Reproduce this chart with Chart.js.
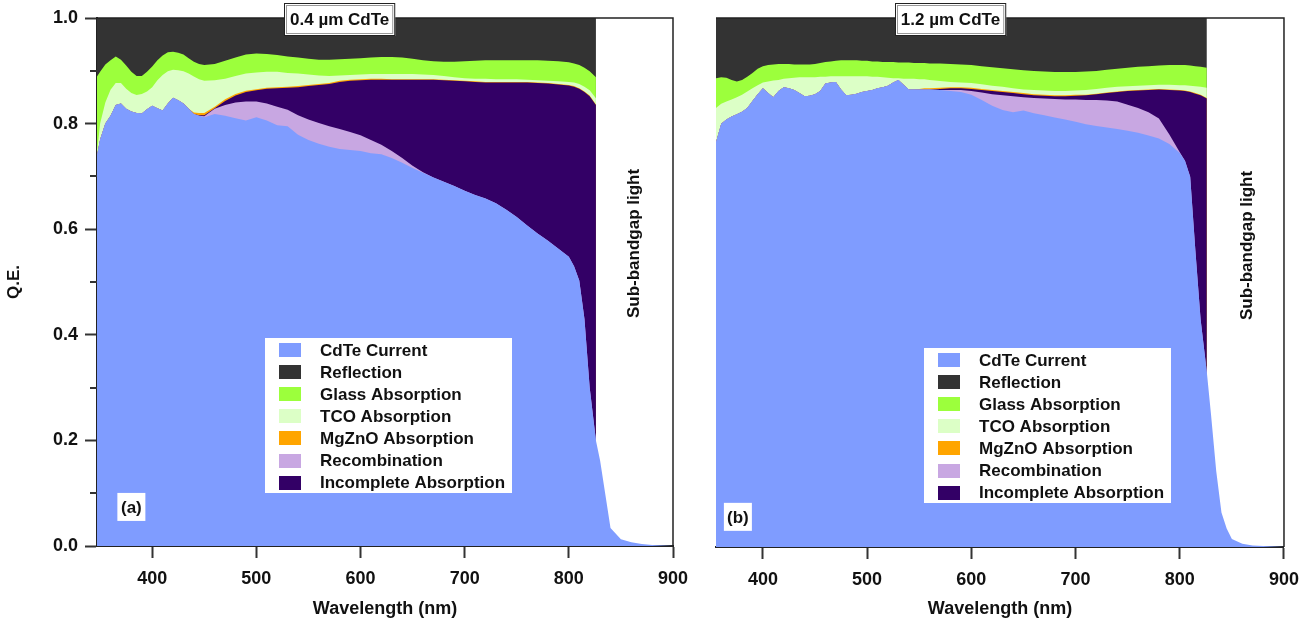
<!DOCTYPE html>
<html lang="en">
  <head>
    <meta charset="UTF-8" />
    <title>CdTe quantum efficiency loss analysis</title>
    <script src="https://cdn.jsdelivr.net/npm/chart.js@4.4.1/dist/chart.umd.min.js"></script>
    <style>
      body { margin: 0; background: #fff; width: 1309px; height: 624px; overflow: hidden; }
      canvas { position: absolute; top: 0; }
      #chartA { left: 0; }
      #chartB { left: 700px; }
    </style>
  </head>
  <body>
    <canvas id="chartA" width="700" height="624"></canvas>
    <canvas id="chartB" width="609" height="624"></canvas>

    <script>
      // Each loss array holds the upper edge of its band (cumulative Q.E.).
      // Bands are stacked: CdTe current < recombination < incomplete absorption
      // < MgZnO < TCO < glass < reflection (up to 1.0).

      // ---- (a) 0.4 um CdTe ----
      const wlA = [
        347, 350, 355, 360, 365, 370, 375, 380, 385, 390, 395, 400, 405, 410, 415, 420, 425, 430, 435, 440, 445, 450,
        460, 470, 480, 490, 500, 510, 520, 530, 540, 550, 560, 570, 580, 590, 600, 610, 620, 630, 640, 650, 660,
        670, 680, 690, 700, 710, 720, 730, 740, 750, 760, 770, 780, 790, 800,
        805, 810, 815, 820, 826
      ];
      const wlTailA = [830, 835, 840, 850, 860, 870, 880, 890, 900];
      const cdteA = [
        0.74, 0.77, 0.80, 0.815, 0.835, 0.838, 0.828, 0.823, 0.82, 0.819, 0.827, 0.834, 0.829, 0.825, 0.838, 0.849, 0.844, 0.838, 0.828, 0.818, 0.815, 0.812,
        0.818, 0.815, 0.81, 0.806, 0.812, 0.806, 0.797, 0.795, 0.779, 0.769, 0.762, 0.756, 0.752, 0.75, 0.748, 0.744, 0.742, 0.735, 0.726, 0.716, 0.707,
        0.698, 0.69, 0.682, 0.673, 0.665, 0.658, 0.649, 0.637, 0.623, 0.607, 0.592, 0.578, 0.563, 0.548,
        0.53, 0.503, 0.43, 0.3, 0.2,
        0.162, 0.098, 0.034, 0.013, 0.007, 0.004, 0.002, 0.001, 0
      ];
      const recombA = [
        0.74, 0.77, 0.80, 0.815, 0.835, 0.838, 0.828, 0.823, 0.82, 0.819, 0.827, 0.834, 0.829, 0.825, 0.838, 0.849, 0.844, 0.838, 0.828, 0.818, 0.815, 0.814,
        0.828, 0.835, 0.84, 0.842, 0.842, 0.838, 0.832, 0.826, 0.816, 0.808, 0.801, 0.795, 0.79, 0.784, 0.778, 0.769, 0.76, 0.748, 0.735, 0.72, 0.708,
        0.698, 0.69, 0.682, 0.673, 0.665, 0.658, 0.649, 0.637, 0.623, 0.607, 0.592, 0.578, 0.563, 0.548,
        0.53, 0.503, 0.43, 0.3, 0.2
      ];
      const incompleteA = [
        0.74, 0.77, 0.80, 0.815, 0.835, 0.838, 0.828, 0.823, 0.82, 0.819, 0.827, 0.834, 0.829, 0.825, 0.838, 0.849, 0.844, 0.838, 0.828, 0.818, 0.816, 0.816,
        0.829, 0.843, 0.853, 0.86, 0.863, 0.866, 0.867, 0.868, 0.869, 0.871, 0.873, 0.875, 0.879, 0.881, 0.882, 0.883, 0.883, 0.883, 0.883, 0.883, 0.883,
        0.883, 0.882, 0.881, 0.88, 0.879, 0.878, 0.878, 0.878, 0.878, 0.878, 0.877, 0.876, 0.874, 0.872,
        0.87, 0.866, 0.86, 0.852, 0.835
      ];
      const mgznoA = [
        0.74, 0.77, 0.80, 0.815, 0.835, 0.838, 0.828, 0.823, 0.82, 0.819, 0.827, 0.834, 0.829, 0.825, 0.838, 0.849, 0.844, 0.838, 0.828, 0.821, 0.82, 0.82,
        0.832, 0.846, 0.856, 0.862, 0.865, 0.868, 0.869, 0.87, 0.871, 0.873, 0.875, 0.877, 0.881, 0.883, 0.884, 0.885, 0.885, 0.884, 0.884, 0.884, 0.884,
        0.884, 0.883, 0.882, 0.881, 0.88, 0.879, 0.879, 0.879, 0.879, 0.879, 0.878, 0.877, 0.875, 0.873,
        0.871, 0.867, 0.861, 0.853, 0.836
      ];
      const tcoA = [
        0.745, 0.80, 0.84, 0.864, 0.877, 0.877, 0.866, 0.858, 0.854, 0.856, 0.861, 0.869, 0.882, 0.892, 0.899, 0.902, 0.901, 0.899, 0.895, 0.889, 0.884, 0.881,
        0.882, 0.885, 0.89, 0.895, 0.897, 0.898, 0.898, 0.896, 0.895, 0.893, 0.891, 0.89, 0.891, 0.892, 0.893, 0.894, 0.894, 0.894, 0.894, 0.894, 0.893,
        0.892, 0.89, 0.888, 0.886, 0.885, 0.885, 0.884, 0.884, 0.884, 0.883, 0.882, 0.881, 0.88, 0.879,
        0.878, 0.875, 0.87, 0.863, 0.848
      ];
      const glassA = [
        0.889, 0.898, 0.912, 0.92, 0.927, 0.921, 0.91, 0.898, 0.89, 0.89, 0.898, 0.908, 0.92, 0.929, 0.935, 0.936, 0.934, 0.931, 0.924, 0.917, 0.913, 0.911,
        0.913, 0.919, 0.925, 0.931, 0.933, 0.932, 0.93, 0.927, 0.925, 0.923, 0.921, 0.921, 0.922, 0.923, 0.924, 0.925, 0.926, 0.926, 0.925, 0.923, 0.92,
        0.918, 0.917, 0.917, 0.918, 0.919, 0.92, 0.92, 0.92, 0.92, 0.92, 0.92, 0.919, 0.918, 0.916,
        0.914, 0.911, 0.906, 0.899, 0.888
      ];
      const reflWlA = [347, 826];
      const reflA = [1, 1];

      // ---- (b) 1.2 um CdTe ----
      const wlB = [
        355, 360, 365, 370, 375, 380, 385, 390, 395, 400, 405, 410, 415, 420, 425, 430, 435, 440, 445, 450,
        455, 460, 465, 470, 475, 480, 485, 490, 495, 500, 505, 510, 515, 520, 525, 530, 535, 540, 545, 550, 555, 560,
        570, 580, 590, 600, 610, 620, 630, 640, 650, 660, 670, 680, 690, 700, 710, 720, 730, 740, 750, 760, 770, 780, 790, 800,
        805, 810, 815, 820, 826
      ];
      const wlTailB = [830, 835, 840, 845, 850, 860, 870, 880, 890, 900];
      const cdteB = [
        0.765, 0.80, 0.808, 0.814, 0.818, 0.823, 0.83, 0.843, 0.856, 0.867, 0.858, 0.85, 0.862, 0.869, 0.867, 0.864, 0.858, 0.852, 0.853, 0.856,
        0.862, 0.876, 0.878, 0.879, 0.865, 0.854, 0.855, 0.857, 0.86, 0.862, 0.864, 0.867, 0.869, 0.872, 0.878, 0.883, 0.874, 0.865, 0.865, 0.865, 0.865, 0.865,
        0.864, 0.862, 0.86, 0.855, 0.845, 0.834, 0.826, 0.822, 0.825, 0.82, 0.816, 0.812, 0.808, 0.804, 0.799, 0.796, 0.793, 0.79, 0.787, 0.783, 0.778, 0.772, 0.762, 0.745,
        0.73, 0.70, 0.56, 0.43, 0.33,
        0.25, 0.143, 0.065, 0.035, 0.015, 0.006, 0.003, 0.002, 0.001, 0
      ];
      const recombB = [
        0.765, 0.80, 0.808, 0.814, 0.818, 0.823, 0.83, 0.843, 0.856, 0.867, 0.858, 0.85, 0.862, 0.869, 0.867, 0.864, 0.858, 0.852, 0.853, 0.856,
        0.862, 0.876, 0.878, 0.879, 0.865, 0.854, 0.855, 0.857, 0.86, 0.862, 0.864, 0.867, 0.869, 0.872, 0.878, 0.883, 0.874, 0.865, 0.865, 0.865, 0.865, 0.865,
        0.864, 0.864, 0.864, 0.862, 0.859, 0.856, 0.854, 0.852, 0.85, 0.849, 0.848, 0.847, 0.846, 0.846, 0.845, 0.845, 0.844, 0.842, 0.836, 0.83, 0.822, 0.81, 0.78, 0.746,
        0.73, 0.70, 0.56, 0.43, 0.33
      ];
      const incompleteB = [
        0.765, 0.80, 0.808, 0.814, 0.818, 0.823, 0.83, 0.843, 0.856, 0.867, 0.858, 0.85, 0.862, 0.869, 0.867, 0.864, 0.858, 0.852, 0.853, 0.856,
        0.862, 0.876, 0.878, 0.879, 0.865, 0.854, 0.855, 0.857, 0.86, 0.862, 0.864, 0.867, 0.869, 0.872, 0.878, 0.883, 0.874, 0.865, 0.865, 0.865, 0.865, 0.865,
        0.866, 0.867, 0.867, 0.866, 0.864, 0.862, 0.86, 0.858, 0.856, 0.854, 0.853, 0.852, 0.852, 0.853, 0.854, 0.856, 0.858, 0.86, 0.862, 0.863, 0.864, 0.865, 0.864, 0.863,
        0.862, 0.86, 0.857, 0.854, 0.848
      ];
      const mgznoB = [
        0.765, 0.80, 0.808, 0.814, 0.818, 0.823, 0.83, 0.843, 0.856, 0.867, 0.858, 0.85, 0.862, 0.869, 0.867, 0.864, 0.858, 0.852, 0.853, 0.856,
        0.862, 0.876, 0.878, 0.879, 0.865, 0.854, 0.855, 0.857, 0.86, 0.862, 0.864, 0.867, 0.869, 0.872, 0.878, 0.883, 0.874, 0.865, 0.865, 0.866, 0.867, 0.867,
        0.868, 0.869, 0.869, 0.868, 0.866, 0.864, 0.862, 0.86, 0.858, 0.856, 0.855, 0.854, 0.854, 0.855, 0.855, 0.857, 0.859, 0.861, 0.863, 0.864, 0.865, 0.866, 0.865, 0.864,
        0.863, 0.861, 0.858, 0.855, 0.849
      ];
      const tcoB = [
        0.83, 0.838, 0.842, 0.846, 0.85, 0.855, 0.861, 0.867, 0.873, 0.878, 0.88, 0.882, 0.883, 0.885, 0.886, 0.887, 0.888, 0.888, 0.888, 0.888,
        0.889, 0.889, 0.89, 0.89, 0.89, 0.89, 0.89, 0.89, 0.89, 0.89, 0.889, 0.889, 0.888, 0.887, 0.886, 0.886, 0.885, 0.885, 0.885, 0.884, 0.884, 0.883,
        0.881, 0.879, 0.878, 0.877, 0.875, 0.872, 0.87, 0.867, 0.865, 0.864, 0.863, 0.862, 0.862, 0.863, 0.864, 0.866, 0.868, 0.87, 0.871, 0.872, 0.873, 0.874, 0.874, 0.873,
        0.873, 0.872, 0.871, 0.87, 0.868
      ];
      const glassB = [
        0.886, 0.888, 0.887, 0.883, 0.88, 0.883, 0.889, 0.896, 0.904, 0.909, 0.911, 0.912, 0.913, 0.913, 0.913, 0.912, 0.912, 0.912, 0.912, 0.913,
        0.915, 0.917, 0.918, 0.919, 0.92, 0.92, 0.92, 0.92, 0.919, 0.919, 0.918, 0.918, 0.917, 0.917, 0.917, 0.916, 0.916, 0.916, 0.915, 0.915, 0.915, 0.914,
        0.914, 0.913, 0.912, 0.911, 0.909, 0.907, 0.905, 0.903, 0.901, 0.9, 0.899, 0.898, 0.898, 0.898, 0.899, 0.9, 0.902, 0.904, 0.906, 0.908, 0.909, 0.91, 0.911, 0.911,
        0.911, 0.91, 0.909, 0.908, 0.906
      ];
      const reflWlB = [355, 826];
      const reflB = [1, 1];

      const xTicks = [400, 500, 600, 700, 800, 900];

      const colors = {
        cdte: "#7f9cff",
        refl: "#333333",
        glass: "#9cff3c",
        tco: "#dcffc6",
        mgzno: "#ffa500",
        recomb: "#c8a7e2",
        incomplete: "#330066",
      };

      const FONT = "'Liberation Sans', Arial, Helvetica, sans-serif";
      Chart.defaults.font.family = FONT;
      Chart.defaults.font.weight = "bold";
      Chart.defaults.color = "#111";

      function points(xs, ys) {
        return xs.map((x, i) => ({ x: x, y: ys[i] }));
      }

      // Every band fills down to zero; lower bands are drawn last and cover the upper ones
      function band(label, color, xs, ys) {
        return {
          label: label,
          data: points(xs, ys),
          backgroundColor: color,
          borderColor: "rgba(0,0,0,0)",
          borderWidth: 0,
          pointRadius: 0,
          tension: 0,
          fill: "origin",
        };
      }

      // legend rows: CdTe, Reflection, Glass, TCO, MgZnO, Recombination, Incomplete
      const legendOrder = [0, 6, 5, 4, 3, 1, 2];

      const panelDecor = {
        id: "panelDecor",
        afterDraw(chart, args, opts) {
          const ctx = chart.ctx;
          const a = chart.chartArea;
          const x = chart.scales.x;
          const y = chart.scales.y;
          ctx.save();

          // frame on top and right
          ctx.strokeStyle = "#222";
          ctx.lineWidth = 1.5;
          ctx.beginPath();
          ctx.moveTo(a.left, a.top);
          ctx.lineTo(a.right, a.top);
          ctx.lineTo(a.right, a.bottom);
          ctx.stroke();

          // minor ticks on the Q.E. axis
          if (opts.minorTicks) {
            ctx.strokeStyle = "#333";
            ctx.lineWidth = 2;
            [0.1, 0.3, 0.5, 0.7, 0.9].forEach((v) => {
              const py = Math.round(y.getPixelForValue(v));
              ctx.beginPath();
              ctx.moveTo(a.left - 7, py);
              ctx.lineTo(a.left, py);
              ctx.stroke();
            });
          }

          // sub-bandgap note
          ctx.save();
          ctx.translate(x.getPixelForValue(opts.gapX), y.getPixelForValue(opts.gapY));
          ctx.rotate(-Math.PI / 2);
          ctx.font = "bold 17px " + FONT;
          ctx.fillStyle = "#111";
          ctx.textAlign = "center";
          ctx.textBaseline = "middle";
          ctx.fillText("Sub-bandgap light", 0, 0);
          ctx.restore();

          // absorber thickness box
          ctx.font = "bold 17px " + FONT;
          const tx = x.getPixelForValue(opts.titleX);
          const tw = ctx.measureText(opts.title).width + 12;
          const th = 33;
          const bx = Math.round(tx - tw / 2);
          const by = a.top - 15;
          ctx.fillStyle = "#fff";
          ctx.fillRect(bx, by, tw, th);
          ctx.lineWidth = 1;
          ctx.strokeStyle = "#222";
          ctx.strokeRect(bx + 0.5, by + 0.5, tw - 1, th - 1);
          ctx.strokeStyle = "#999";
          ctx.strokeRect(bx + 2.5, by + 2.5, tw - 5, th - 5);
          ctx.fillStyle = "#111";
          ctx.textAlign = "center";
          ctx.textBaseline = "middle";
          ctx.fillText(opts.title, tx, by + th / 2 + 1);

          // panel letter
          const lx = x.getPixelForValue(opts.letterX);
          const ly = y.getPixelForValue(opts.letterY);
          ctx.fillStyle = "#fff";
          ctx.fillRect(lx - 14, ly - 14, 28, 28);
          ctx.fillStyle = "#111";
          ctx.fillText(opts.letter, lx, ly + 1);

          // legend
          const gx = a.left + opts.legendLeft;
          const gy = a.top + opts.legendTop;
          ctx.fillStyle = "#fff";
          ctx.fillRect(gx, gy, 247, 155);
          ctx.textAlign = "left";
          legendOrder.forEach((di, row) => {
            const ds = chart.data.datasets[di];
            const cy = gy + 12 + row * 22.1;
            ctx.fillStyle = ds.backgroundColor;
            ctx.fillRect(gx + 14, Math.round(cy - 7), 22, 14);
            ctx.fillStyle = "#111";
            ctx.fillText(ds.label, gx + 55, cy + 1);
          });

          ctx.restore();
        },
      };

      function datasetsFor(wl, wlTail, cdte, recomb, incomplete, mgzno, tco, glass, reflWl, refl) {
        return [
          band("CdTe Current", colors.cdte, wl.concat(wlTail), cdte),
          band("Recombination", colors.recomb, wl, recomb),
          band("Incomplete Absorption", colors.incomplete, wl, incomplete),
          band("MgZnO Absorption", colors.mgzno, wl, mgzno),
          band("TCO Absorption", colors.tco, wl, tco),
          band("Glass Absorption", colors.glass, wl, glass),
          band("Reflection", colors.refl, reflWl, refl),
        ];
      }

      function panelOptions(p) {
        return {
          responsive: false,
          animation: false,
          events: [],
          layout: { padding: { top: 18, right: p.padRight, left: p.padLeft, bottom: 0 } },
          plugins: {
            legend: { display: false },
            tooltip: { enabled: false },
            panelDecor: p.decor,
          },
          scales: {
            x: {
              type: "linear",
              min: p.xMin,
              max: 900,
              afterFit: (s) => { s.height = p.xHeight; },
              afterBuildTicks: (s) => { s.ticks = xTicks.map((v) => ({ value: v })); },
              ticks: { font: { size: 18, weight: "bold" }, color: "#111", padding: 10, maxRotation: 0 },
              grid: { drawOnChartArea: false, tickLength: 12, tickWidth: 2, tickColor: "#333" },
              border: { display: true, color: "#222", width: 2 },
              title: {
                display: true,
                text: "Wavelength (nm)",
                font: { size: 18, weight: "bold" },
                color: "#111",
                padding: { top: 0, bottom: 4 },
              },
            },
            y: {
              display: p.showY,
              min: 0,
              max: 1,
              afterFit: (s) => { s.width = p.showY ? 97 : 0; },
              ticks: {
                stepSize: 0.2,
                font: { size: 18, weight: "bold" },
                color: "#111",
                padding: 7,
                callback: (v) => v.toFixed(1),
              },
              grid: { drawOnChartArea: false, tickLength: 12, tickWidth: 2, tickColor: "#333" },
              border: { display: true, color: "#222", width: 2 },
              title: {
                display: true,
                text: "Q.E.",
                font: { size: 17, weight: "bold" },
                color: "#111",
                padding: { top: 4, bottom: 0 },
              },
            },
          },
        };
      }

      new Chart(document.getElementById("chartA"), {
        type: "line",
        data: { datasets: datasetsFor(wlA, wlTailA, cdteA, recombA, incompleteA, mgznoA, tcoA, glassA, reflWlA, reflA) },
        options: panelOptions({
          padLeft: 0,
          padRight: 27,
          xMin: 347,
          xHeight: 78,
          showY: true,
          decor: {
            minorTicks: true,
            gapX: 863, gapY: 0.573,
            title: "0.4 \u00b5m CdTe", titleX: 580,
            letter: "(a)", letterX: 380, letterY: 0.074,
            legendLeft: 168, legendTop: 320,
          },
        }),
        plugins: [panelDecor],
      });

      new Chart(document.getElementById("chartB"), {
        type: "line",
        data: { datasets: datasetsFor(wlB, wlTailB, cdteB, recombB, incompleteB, mgznoB, tcoB, glassB, reflWlB, reflB) },
        options: panelOptions({
          padLeft: 16,
          padRight: 22,
          xMin: 355,
          xHeight: 77,
          showY: false,
          decor: {
            minorTicks: false,
            gapX: 865, gapY: 0.57,
            title: "1.2 \u00b5m CdTe", titleX: 580,
            letter: "(b)", letterX: 376, letterY: 0.057,
            legendLeft: 208, legendTop: 330,
          },
        }),
        plugins: [panelDecor],
      });
    </script>
  </body>
</html>
